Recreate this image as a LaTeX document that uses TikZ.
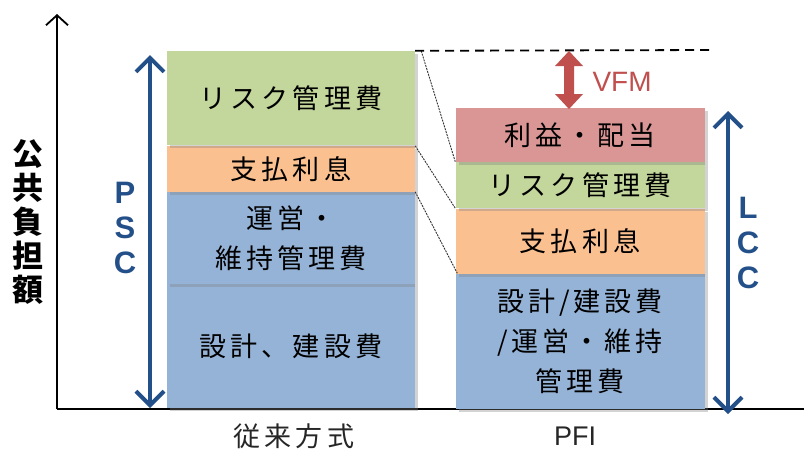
\documentclass[tikz,border=0pt]{standalone}
\usepackage{fontspec}
\newfontfamily\cjk[LetterSpace=15]{Noto Sans CJK JP}
\newfontfamily\cjkb{Noto Sans CJK JP}
\newfontfamily\lat{Liberation Sans}
\usetikzlibrary{arrows.meta,shadows}
\definecolor{cgreen}{HTML}{C3D69B}
\definecolor{corange}{HTML}{FAC090}
\definecolor{cblue}{HTML}{95B3D7}
\definecolor{cred}{HTML}{D99694}
\definecolor{darkblue}{HTML}{24508A}
\definecolor{vfmred}{HTML}{C0504D}
\begin{document}
\begin{tikzpicture}[x=1pt,y=-1pt,
  box/.style={rectangle, inner sep=0pt, minimum width=248pt, draw=none,
     drop shadow={opacity=0.35, shadow xshift=3pt, shadow yshift=-3pt},
     font=\cjk\fontsize{27}{40}\selectfont, align=center, text=black},
  rbox/.style={box, minimum width=249pt},
  bluearrow/.style={darkblue, line width=4pt, {Straight Barb[length=14pt,width=28pt,line width=4pt]}-{Straight Barb[length=14pt,width=28pt,line width=4pt]}},
  biglet/.style={font=\lat\bfseries\fontsize{31}{35}\selectfont, text=darkblue, align=center},
  link/.style={black!80, line width=0.9pt, dash pattern=on 2pt off 1pt}]
\useasboundingbox (0,0) rectangle (804,448);

% axes
\coordinate (o) at (57,409);
\coordinate (ytop) at (57,14);
\coordinate (xend) at (804,409);
\draw[line width=1.8pt, -{Straight Barb[length=10pt,width=22pt,line width=1.8pt]}] (o) -- (ytop);
\draw[line width=1.8pt] (o) -- (xend);
\node[font=\cjkb\bfseries\fontsize{31}{34}\selectfont, align=center] (ylab) at (28,222) {公\\共\\負\\担\\額};

% left column
\node[box, fill=cblue, minimum height=124pt] (lb2) at (291,346) {設計、建設費};
\node[box, fill=cblue, minimum height=92pt] (lb1) at (291,238) {運営・\\維持管理費};
\node[box, fill=corange, minimum height=46pt] (lo) at (291,169) {支払利息};
\node[box, fill=cgreen, minimum height=94pt] (lg) at (291,98) {リスク管理費};

% right column
\node[rbox, fill=cblue, minimum height=135pt] (rb) at (580,341) {設計/建設費\\/運営・維持\\管理費};
\node[rbox, fill=corange, minimum height=65pt] (ro) at (580,241) {支払利息};
\node[rbox, fill=cgreen, minimum height=46pt] (rg) at (580,185) {リスク管理費};
\node[rbox, fill=cred, minimum height=54pt] (rr) at (580,135) {利益・配当};

% dotted links
\draw[link] ([xshift=6pt]lg.north east) -- (rg.north west);
\draw[link] (lo.north east) -- (ro.north west);
\draw[link] (lb1.north east) -- ([xshift=2pt]rb.north west);

% dashed line
\coordinate (dend) at (712,50);
\draw[line width=1.8pt, dash pattern=on 9pt off 6pt] (lg.north east) -- (dend);

% VFM arrow
\coordinate (vtop) at (569,51);
\coordinate (vbot) at (569,109);
\fill[vfmred] (569,51) -- (583,66) -- (574,66) -- (574,94) -- (583,94) -- (569,109) -- (555,94) -- (564,94) -- (564,66) -- (555,66) -- cycle;
\node[font=\lat\fontsize{28}{30}\selectfont, text=vfmred, anchor=west] (vfm) at (589,82) {VFM};

% PSC arrow
\coordinate (pt) at (150,55);
\coordinate (pb) at (150,408);
\draw[bluearrow] (pt) -- (pb);
\node[biglet] (psc) at (125,228) {P\\S\\C};

% LCC arrow
\coordinate (lt) at (728,111);
\coordinate (lbm) at (728,414);
\draw[bluearrow] (lt) -- (lbm);
\node[biglet] (lcc) at (748,243) {L\\C\\C};

% bottom labels
\node[font=\cjk\fontsize{27}{30}\selectfont, text=black!85] (l1) at (294,436) {従来方式};
\node[font=\lat\fontsize{27}{30}\selectfont, text=black!85] (l2) at (575,436) {PFI};
\end{tikzpicture}
\end{document}
